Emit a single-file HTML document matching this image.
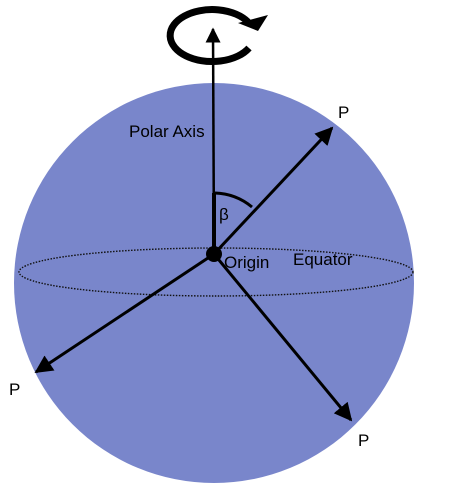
<!DOCTYPE html>
<html><head><meta charset="utf-8"><style>
html,body{margin:0;padding:0;background:#fff;width:454px;height:484px;overflow:hidden}
svg{display:block}
text{font-family:"Liberation Sans",sans-serif;fill:#000}
</style></head><body>
<svg width="454" height="484" viewBox="0 0 454 484">
<defs>
<marker id="ah" viewBox="0 0 10 10" refX="9" refY="5" markerWidth="6" markerHeight="6" markerUnits="strokeWidth" orient="auto">
<path d="M0,0 L10,5 L0,10 Z" fill="#000"/></marker>
</defs>
<circle cx="214" cy="283" r="200" fill="#7986CB"/>
<ellipse cx="216" cy="272" rx="197" ry="24" fill="none" stroke="#111" stroke-width="1.4" stroke-dasharray="1.5,1.5"/>
<g>
<path d="M249,48 A42,26 0 1 1 248,22" fill="none" stroke="#000" stroke-width="7"/>
<path d="M238,23 L268,15 L258,31 Z" fill="#000"/>
</g>
<line x1="214" y1="254" x2="213" y2="29" stroke="#000" stroke-width="2.5" marker-end="url(#ah)"/>
<line x1="214" y1="254" x2="214" y2="193" stroke="#000" stroke-width="4"/>
<path d="M215,193 A61,61 0 0 1 252,207" fill="none" stroke="#000" stroke-width="3"/>
<line x1="214" y1="254" x2="332" y2="128" stroke="#000" stroke-width="3" marker-end="url(#ah)"/>
<line x1="214" y1="254" x2="36" y2="372" stroke="#000" stroke-width="3" marker-end="url(#ah)"/>
<line x1="214" y1="254" x2="351" y2="420" stroke="#000" stroke-width="3" marker-end="url(#ah)"/>
<circle cx="214" cy="254" r="8" fill="#000"/>
<text x="129" y="137" font-size="17">Polar Axis</text>
<text x="219" y="220" font-size="17">β</text>
<text x="224" y="268" font-size="17">Origin</text>
<text x="293" y="265" font-size="17">Equator</text>
<text x="338" y="118" font-size="17">P</text>
<text x="9" y="395" font-size="17">P</text>
<text x="358" y="446" font-size="17">P</text>
</svg>
</body></html>
